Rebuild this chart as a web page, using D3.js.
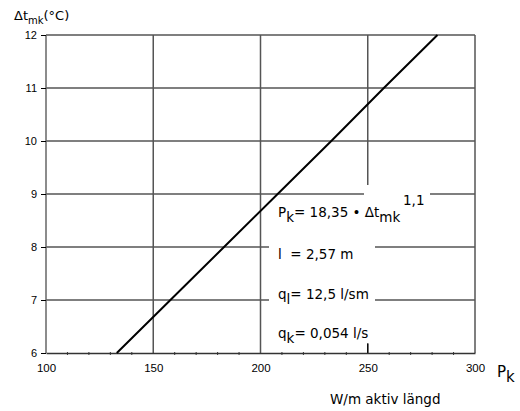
<!DOCTYPE html>
<html><head><meta charset="utf-8">
<script src="https://cdn.jsdelivr.net/npm/d3@7"></script>
<style>body{margin:0;background:#fff}svg{display:block}text{white-space:pre}</style>
</head><body>
<svg id="c" width="520" height="411"></svg>
<script>
const xTicks = [100, 150, 200, 250, 300];
const yTicks = [6, 7, 8, 9, 10, 11, 12];
const lineP = [133, 158, 183, 208, 233, 257.5, 282.5];   // P_k, W/m
const lineT = [6, 7, 8, 9, 10, 11, 12];                   // Δt_mk, °C

const svg = d3.select("#c");
const x = d3.scaleLinear().domain([100, 300]).range([46, 475]);
const y = d3.scaleLinear().domain([6, 12]).range([353, 35]);
const tickFont = "'Liberation Sans', Arial, sans-serif";
const txtFont = "'DejaVu Sans', 'Noto Sans', sans-serif";

// horizontal grid lines (black)
svg.selectAll("line.hg").data(yTicks.filter(d => d > 6 && d < 12)).enter().append("line")
  .attr("x1", x(100)).attr("x2", x(300)).attr("y1", d => y(d)).attr("y2", d => y(d))
  .attr("stroke", "#000").attr("stroke-width", 1.2);
// vertical grid lines (gray)
svg.selectAll("line.vg").data([150, 200, 250]).enter().append("line")
  .attr("x1", d => x(d)).attr("x2", d => x(d)).attr("y1", y(12)).attr("y2", y(6))
  .attr("stroke", "#555").attr("stroke-width", 1.5);
// frame top / right / left
svg.append("line").attr("x1", x(100)).attr("x2", x(300)).attr("y1", y(12)).attr("y2", y(12)).attr("stroke", "#555").attr("stroke-width", 1.5);
svg.append("line").attr("x1", x(300)).attr("x2", x(300)).attr("y1", y(12)).attr("y2", y(6)).attr("stroke", "#555").attr("stroke-width", 1.5);
svg.append("line").attr("x1", x(100)).attr("x2", x(100)).attr("y1", y(12)).attr("y2", y(6)).attr("stroke", "#666").attr("stroke-width", 1.5);

// white masks behind annotation text
svg.append("rect").attr("x", 269).attr("y", 199).attr("width", 106).attr("height", 144).attr("fill", "#fff");
svg.append("rect").attr("x", 364).attr("y", 185).attr("width", 66).attr("height", 20).attr("fill", "#fff");

// short tick at 250
svg.append("line").attr("x1", x(250)).attr("x2", x(250)).attr("y1", y(6) - 9).attr("y2", y(6)).attr("stroke", "#000").attr("stroke-width", 1.2);

// bottom axis
const xa = svg.append("g").attr("transform", `translate(0,${y(6)})`)
  .call(d3.axisBottom(x).tickValues(xTicks).tickSize(0).tickPadding(11).tickFormat(d3.format("d")));
xa.select(".domain").attr("stroke", "#333").attr("stroke-width", 1.3);
xa.selectAll("text").attr("font-family", tickFont).attr("font-size", 11.5).attr("fill", "#000");
// minor ticks
svg.selectAll("line.mt").data(d3.range(110, 300, 10).filter(d => d % 50 !== 0)).enter().append("line")
  .attr("x1", d => x(d)).attr("x2", d => x(d)).attr("y1", y(6) - 1).attr("y2", y(6) + 2)
  .attr("stroke", "#333").attr("stroke-width", 1);

// left axis
const ya = svg.append("g").attr("transform", `translate(${x(100)},0)`)
  .call(d3.axisLeft(y).tickValues(yTicks).tickSize(5).tickPadding(4).tickFormat(d3.format("d")));
ya.select(".domain").remove();
ya.selectAll(".tick line").attr("stroke", "#000");
ya.selectAll("text").attr("font-family", tickFont).attr("font-size", 11).attr("fill", "#000");

// the line
svg.append("path").datum(lineP.map((p, i) => [p, lineT[i]]))
  .attr("d", d3.line().x(d => x(d[0])).y(d => y(d[1])))
  .attr("fill", "none").attr("stroke", "#000").attr("stroke-width", 2);

// annotations
function txt(xp, yp, parts, size) {
  const t = svg.append("text").attr("x", xp).attr("y", yp).attr("font-family", txtFont).attr("font-size", size || 13.5).attr("fill", "#000");
  parts.forEach(p => {
    const s = t.append("tspan").text(p[0]);
    if (p[1]) s.attr("dy", p[1]);
    if (p[2]) s.attr("font-size", p[2]);
  });
  return t;
}
txt(14, 20, [["Δt", 0, 13], ["mk", 4, 10], ["(°C)", -4, 13]]);
txt(278, 217, [["P"], ["k", 5], ["= 18,35 • Δt", -5], ["mk", 5]]);
txt(403, 205, [["1,1"]]);
txt(278, 259, [["l  = 2,57 m"]]);
txt(278, 299, [["q"], ["l", 5], ["= 12,5 l/sm", -5]]);
txt(278, 338, [["q"], ["k", 5], ["= 0,054 l/s", -5]]);
txt(497, 377, [["P"], ["k", 5]], 15);
txt(330, 404, [["W/m aktiv längd"]]);
</script>
</body></html>
